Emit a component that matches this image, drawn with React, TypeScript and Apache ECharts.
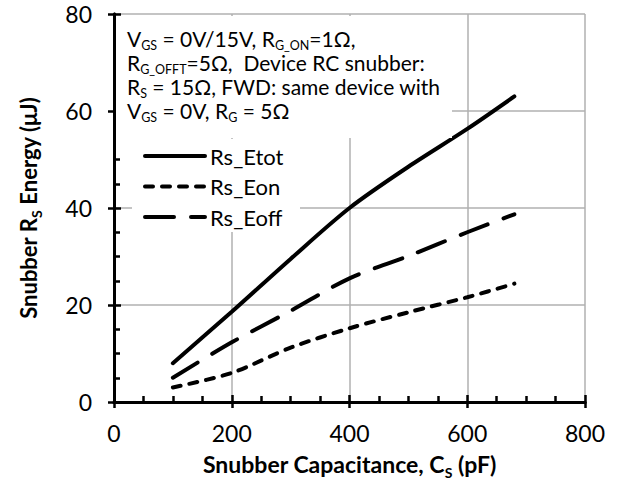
import React, { useEffect, useRef } from "react";
import * as echarts from "echarts";

const capacitance = [100, 200, 300, 400, 500, 600, 680];
const rsEtot = [8, 18.6, 29.5, 40, 48.5, 56.3, 63];
const rsEon = [3, 6, 11.2, 15.2, 18.5, 21.6, 24.4];
const rsEoff = [5, 12.3, 18.8, 25.5, 30.1, 35, 38.7];
const seriesNames = ["Rs_Etot", "Rs_Eon", "Rs_Eoff"];
const xTicks = [0, 200, 400, 600, 800];
const yTicks = [0, 20, 40, 60, 80];
const noteLines = [
  "V{s|GS} = 0V/15V, R{s|G_ON}=1Ω,",
  "R{s|G_OFFT}=5Ω,  Device RC snubber:",
  "R{s|S} = 15Ω, FWD: same device with",
  "V{s|GS} = 0V, R{s|G} = 5Ω",
];

const FONT = "Lato";
const DASH_ON = [8, 9];
const DASH_OFF = [29, 17];

export default function App() {
  const ref = useRef<HTMLDivElement>(null);
  useEffect(() => {
    const chart = echarts.init(ref.current!, null, { renderer: "svg" });
    const toPairs = (ys: number[]) => capacitance.map((c, i) => [c, ys[i]]);
    const lineSeries = (name: string, ys: number[], type: any) => ({
      name,
      type: "line",
      data: toPairs(ys),
      smooth: 0.3,
      symbol: "none",
      xAxisIndex: 0,
      yAxisIndex: 0,
      z: 3,
      lineStyle: { color: "#000", width: 4, type, cap: "round" },
      itemStyle: { color: "#000" },
    });
    const baseX = {
      type: "value",
      min: xTicks[0],
      max: xTicks[xTicks.length - 1],
      interval: 200,
    };
    const baseY = {
      type: "value",
      min: yTicks[0],
      max: yTicks[yTicks.length - 1],
      interval: 20,
    };
    const nameStyle = (size: number) => ({
      fontFamily: FONT,
      fontWeight: "bold",
      fontSize: size,
      lineHeight: 26,
      color: "#000",
      rich: {
        s: {
          fontFamily: FONT,
          fontWeight: "bold",
          fontSize: 14,
          verticalAlign: "bottom",
          lineHeight: 11,
          padding: [0, 0, -2, 0],
          color: "#000",
        },
      },
    });
    const legendStyles = ["solid", DASH_ON, DASH_OFF];
    const legendGraphics: any[] = [
      { type: "rect", z: 4, shape: { x: 132, y: 139, width: 168, height: 93 }, style: { fill: "#fff" } },
    ];
    seriesNames.forEach((n, i) => {
      const y = 156 + i * 30.5;
      const st = legendStyles[i];
      legendGraphics.push({
        type: "line",
        z: 6,
        shape: { x1: 145, y1: y, x2: 205, y2: y },
        style: {
          stroke: "#000",
          lineWidth: 4,
          lineCap: "round",
          lineDash: st === "solid" ? null : st,
        },
      });
      legendGraphics.push({
        type: "text",
        z: 6,
        x: 210,
        y,
        style: { text: n, fontFamily: FONT, fontSize: 22, fill: "#000", verticalAlign: "middle" },
      });
    });
    const noteGraphics = noteLines.map((line, i) => ({
      type: "text",
      z: 6,
      x: 127,
      y: 27 + i * 24,
      style: {
        text: line,
        fontFamily: FONT,
        fontSize: 21,
        lineHeight: 22,
        fill: "#000",
        rich: {
          s: {
            fontFamily: FONT,
            fontSize: 12.5,
            lineHeight: 5,
            verticalAlign: "bottom",
            padding: [0, 0, -3, 0],
            fill: "#000",
          },
        },
      },
    }));
    chart.setOption({
      animation: false,
      grid: { left: 114, right: 33, top: 14, bottom: 81 },
      xAxis: [
        {
          ...baseX,
          position: "bottom",
          name: "Snubber Capacitance, C{s|S} (pF)",
          nameLocation: "middle",
          nameGap: 49,
          nameTextStyle: nameStyle(23),
          axisLine: { show: true, lineStyle: { color: "#000", width: 3 } },
          axisTick: { show: true, inside: true, length: 7, lineStyle: { color: "#000", width: 2.5 } },
          minorTick: { show: true, splitNumber: 4, length: 6, lineStyle: { color: "#000", width: 2.5 } },
          axisLabel: { fontFamily: FONT, fontSize: 23, color: "#000", margin: 19 },
          splitLine: { show: true, lineStyle: { color: "#b0b0b0", width: 1.5 } },
        },
        {
          ...baseX,
          position: "bottom",
          axisLine: { show: false },
          axisTick: { show: true, inside: false, length: 6, lineStyle: { color: "#000", width: 2.5 } },
          axisLabel: { show: false },
          splitLine: { show: false },
        },
        {
          ...baseX,
          position: "top",
          axisLine: { show: true, lineStyle: { color: "#000", width: 3 } },
          axisTick: { show: false },
          axisLabel: { show: false },
          splitLine: { show: false },
        },
      ],
      yAxis: [
        {
          ...baseY,
          position: "left",
          name: "Snubber R{s|S} Energy (μJ)",
          nameLocation: "middle",
          nameGap: 73,
          nameTextStyle: nameStyle(22),
          axisLine: { show: true, lineStyle: { color: "#000", width: 3 } },
          axisTick: { show: true, inside: true, length: 7, lineStyle: { color: "#000", width: 2.5 } },
          minorTick: { show: true, splitNumber: 4, length: 6, lineStyle: { color: "#000", width: 2.5 } },
          axisLabel: { fontFamily: FONT, fontSize: 23, color: "#000", margin: 22 },
          splitLine: { show: true, lineStyle: { color: "#b0b0b0", width: 1.5 } },
        },
        {
          ...baseY,
          position: "left",
          axisLine: { show: false },
          axisTick: { show: true, inside: false, length: 6, lineStyle: { color: "#000", width: 2.5 } },
          axisLabel: { show: false },
          splitLine: { show: false },
        },
        {
          ...baseY,
          position: "right",
          axisLine: { show: true, lineStyle: { color: "#000", width: 3 } },
          axisTick: { show: false },
          axisLabel: { show: false },
          splitLine: { show: false },
        },
      ],
      graphic: [
        {
          type: "rect",
          z: 4,
          shape: { x: 116, y: 16, width: 336, height: 122 },
          style: { fill: "#fff" },
        },
        ...noteGraphics,
        ...legendGraphics,
      ],
      series: [
        lineSeries(seriesNames[0], rsEtot, "solid"),
        lineSeries(seriesNames[1], rsEon, DASH_ON),
        lineSeries(seriesNames[2], rsEoff, DASH_OFF),
      ],
    });
    return () => chart.dispose();
  }, []);
  return (
    <div
      ref={ref}
      style={{ position: "fixed", left: 0, top: 0, width: 618, height: 484, background: "#fff" }}
    />
  );
}
